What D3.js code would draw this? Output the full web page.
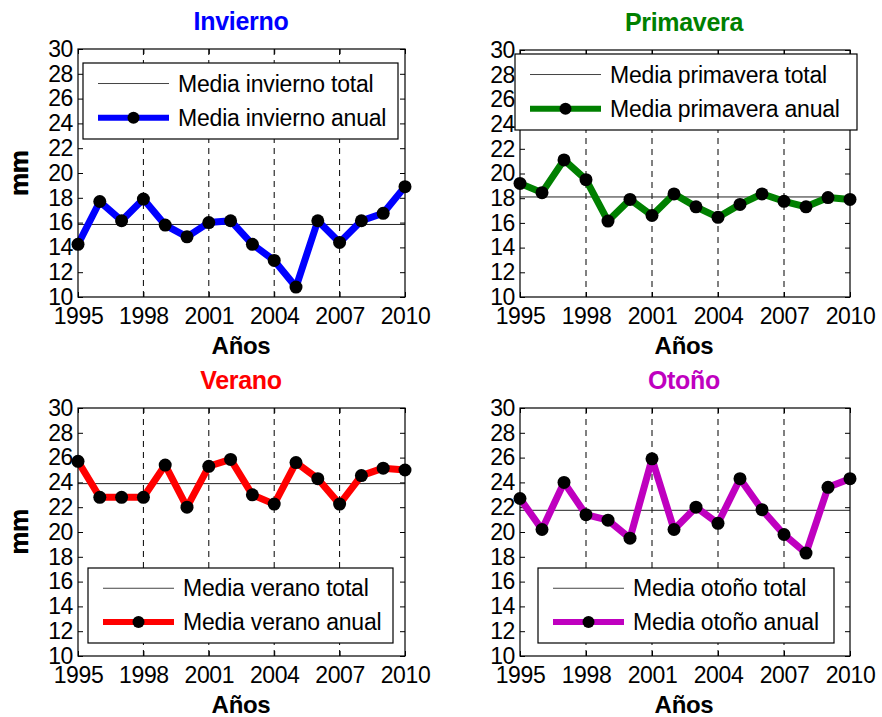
<!DOCTYPE html>
<html>
<head>
<meta charset="utf-8">
<script src="https://cdn.jsdelivr.net/npm/d3@7"></script>
<style>
  html, body { margin: 0; padding: 0; background: #fff; }
  svg text { font-family: "Liberation Sans", Arial, Helvetica, sans-serif; }
</style>
</head>
<body>
<script>
// data
const years = d3.range(1995, 2011);
const xTicks = [1995, 1998, 2001, 2004, 2007, 2010];
const yTicks = [10, 12, 14, 16, 18, 20, 22, 24, 26, 28, 30];

const invierno = [14.25, 17.7, 16.15, 17.9, 15.8, 14.85, 16.0, 16.15, 14.25, 12.95, 10.8, 16.15, 14.4, 16.15, 16.75, 18.9];
const primavera = [19.2, 18.45, 21.1, 19.5, 16.15, 17.9, 16.6, 18.35, 17.3, 16.45, 17.5, 18.35, 17.75, 17.3, 18.05, 17.9];
const verano = [25.7, 22.8, 22.8, 22.8, 25.4, 22.0, 25.3, 25.85, 23.0, 22.25, 25.6, 24.3, 22.25, 24.55, 25.15, 25.0];
const otono = [22.7, 20.2, 24.0, 21.4, 20.95, 19.5, 25.9, 20.2, 22.0, 20.7, 24.3, 21.8, 19.8, 18.3, 23.6, 24.3];

const mediaTotal = [15.85, 18.1, 23.9, 21.75];
const titles = ["Invierno", "Primavera", "Verano", "Otoño"];
const seasonNames = ["invierno", "primavera", "verano", "otoño"];
const seriesList = [invierno, primavera, verano, otono];
const colors = ["#0000ff", "#008000", "#ff0000", "#bf00bf"];

// layout of each panel (plot box + legend box)
const layout = [
  { l: 78, r: 405, t: 49, b: 297, lg: { x: 83, y: 63, w: 315, h: 76 }, cx: 241 },
  { l: 520, r: 850, t: 50, b: 297, lg: { x: 515, y: 54, w: 342, h: 76 }, cx: 684 },
  { l: 78, r: 405, t: 408, b: 656, lg: { x: 88, y: 568, w: 305, h: 75 }, cx: 241 },
  { l: 520, r: 850, t: 408, b: 656, lg: { x: 538, y: 568, w: 296, h: 75 }, cx: 684 }
];

const svg = d3.select("body").append("svg")
  .attr("width", 882)
  .attr("height", 717);

svg.append("rect").attr("width", 882).attr("height", 717).attr("fill", "#fff");

layout.forEach(function (p, i) {
  const vals = seriesList[i];
  const g = svg.append("g");

  const x = d3.scaleLinear().domain([1995, 2010]).range([p.l, p.r]);
  const y = d3.scaleLinear().domain([10, 30]).range([p.b, p.t]);

  // dashed vertical grid
  g.selectAll(".grid")
    .data(xTicks.slice(1, -1))
    .enter().append("line")
    .attr("x1", d => x(d)).attr("x2", d => x(d))
    .attr("y1", p.t).attr("y2", p.b)
    .attr("stroke", "#000")
    .attr("stroke-width", 1)
    .attr("stroke-dasharray", "6,5");

  // axes
  const left = g.append("g").attr("transform", "translate(" + p.l + ",0)")
    .call(d3.axisLeft(y).tickValues(yTicks).tickSize(-5).tickPadding(5));
  const right = g.append("g").attr("transform", "translate(" + p.r + ",0)")
    .call(d3.axisRight(y).tickValues(yTicks).tickSize(-5).tickFormat(""));
  const bottom = g.append("g").attr("transform", "translate(0," + p.b + ")")
    .call(d3.axisBottom(x).tickValues(xTicks).tickSize(-5).tickPadding(11).tickFormat(d3.format("d")));
  const top = g.append("g").attr("transform", "translate(0," + p.t + ")")
    .call(d3.axisTop(x).tickValues(xTicks).tickSize(-5).tickFormat(""));

  [left, right, bottom, top].forEach(function (a) {
    a.select(".domain").remove();
    a.selectAll("line").attr("stroke", "#000");
    a.selectAll("text")
      .attr("fill", "#000")
      .style("font-size", "23px")
      .style("letter-spacing", "-0.4px");
  });

  // total mean
  g.append("line")
    .attr("x1", p.l).attr("x2", p.r)
    .attr("y1", y(mediaTotal[i])).attr("y2", y(mediaTotal[i]))
    .attr("stroke", "#222")
    .attr("stroke-width", 1);

  // annual series
  const line = d3.line().x((d, j) => x(years[j])).y(d => y(d));
  g.append("path")
    .datum(vals)
    .attr("d", line)
    .attr("fill", "none")
    .attr("stroke", colors[i])
    .attr("stroke-width", 7)
    .attr("stroke-linejoin", "round");

  g.selectAll(".dot")
    .data(vals)
    .enter().append("circle")
    .attr("cx", (d, j) => x(years[j]))
    .attr("cy", d => y(d))
    .attr("r", 6.5)
    .attr("fill", "#000");

  // frame
  g.append("rect")
    .attr("x", p.l).attr("y", p.t)
    .attr("width", p.r - p.l).attr("height", p.b - p.t)
    .attr("fill", "none")
    .attr("stroke", "#000")
    .attr("stroke-width", 1.2);

  // title
  g.append("text")
    .attr("x", p.cx).attr("y", p.t - 19)
    .attr("text-anchor", "middle")
    .attr("fill", colors[i])
    .style("font-size", "25px")
    .style("font-weight", "bold")
    .style("letter-spacing", "-0.3px")
    .text(titles[i]);

  // axis labels
  g.append("text")
    .attr("x", p.cx).attr("y", p.b + 57)
    .attr("text-anchor", "middle")
    .style("font-size", "24px")
    .style("font-weight", "bold")
    .style("letter-spacing", "-0.3px")
    .text("Años");

  g.append("text")
    .attr("transform", "translate(" + 28 + "," + ((p.t + p.b) / 2) + ") rotate(-90)")
    .attr("text-anchor", "middle")
    .style("font-size", "26px")
    .style("font-weight", "bold")
    .style("letter-spacing", "-0.3px")
    .text("mm");

  // legend
  const lg = g.append("g").attr("transform", "translate(" + p.lg.x + "," + p.lg.y + ")");
  lg.append("rect")
    .attr("width", p.lg.w).attr("height", p.lg.h)
    .attr("fill", "#fff")
    .attr("stroke", "#000")
    .attr("stroke-width", 1.2);

  const row1 = p.lg.h * 0.27, row2 = p.lg.h * 0.72;
  const sx0 = 15, sx1 = 86, tx = 95;
  lg.append("line")
    .attr("x1", sx0).attr("x2", sx1).attr("y1", row1).attr("y2", row1)
    .attr("stroke", "#444").attr("stroke-width", 1);
  lg.append("line")
    .attr("x1", sx0).attr("x2", sx1).attr("y1", row2).attr("y2", row2)
    .attr("stroke", colors[i]).attr("stroke-width", 6);
  lg.append("circle")
    .attr("cx", (sx0 + sx1) / 2).attr("cy", row2).attr("r", 6)
    .attr("fill", "#000");

  lg.selectAll(".ltext")
    .data(["Media " + seasonNames[i] + " total", "Media " + seasonNames[i] + " anual"])
    .enter().append("text")
    .attr("x", tx)
    .attr("y", (d, j) => (j === 0 ? row1 : row2))
    .attr("dy", "0.35em")
    .style("font-size", "23px")
    .style("letter-spacing", "-0.2px")
    .text(d => d);
});
</script>
</body>
</html>
